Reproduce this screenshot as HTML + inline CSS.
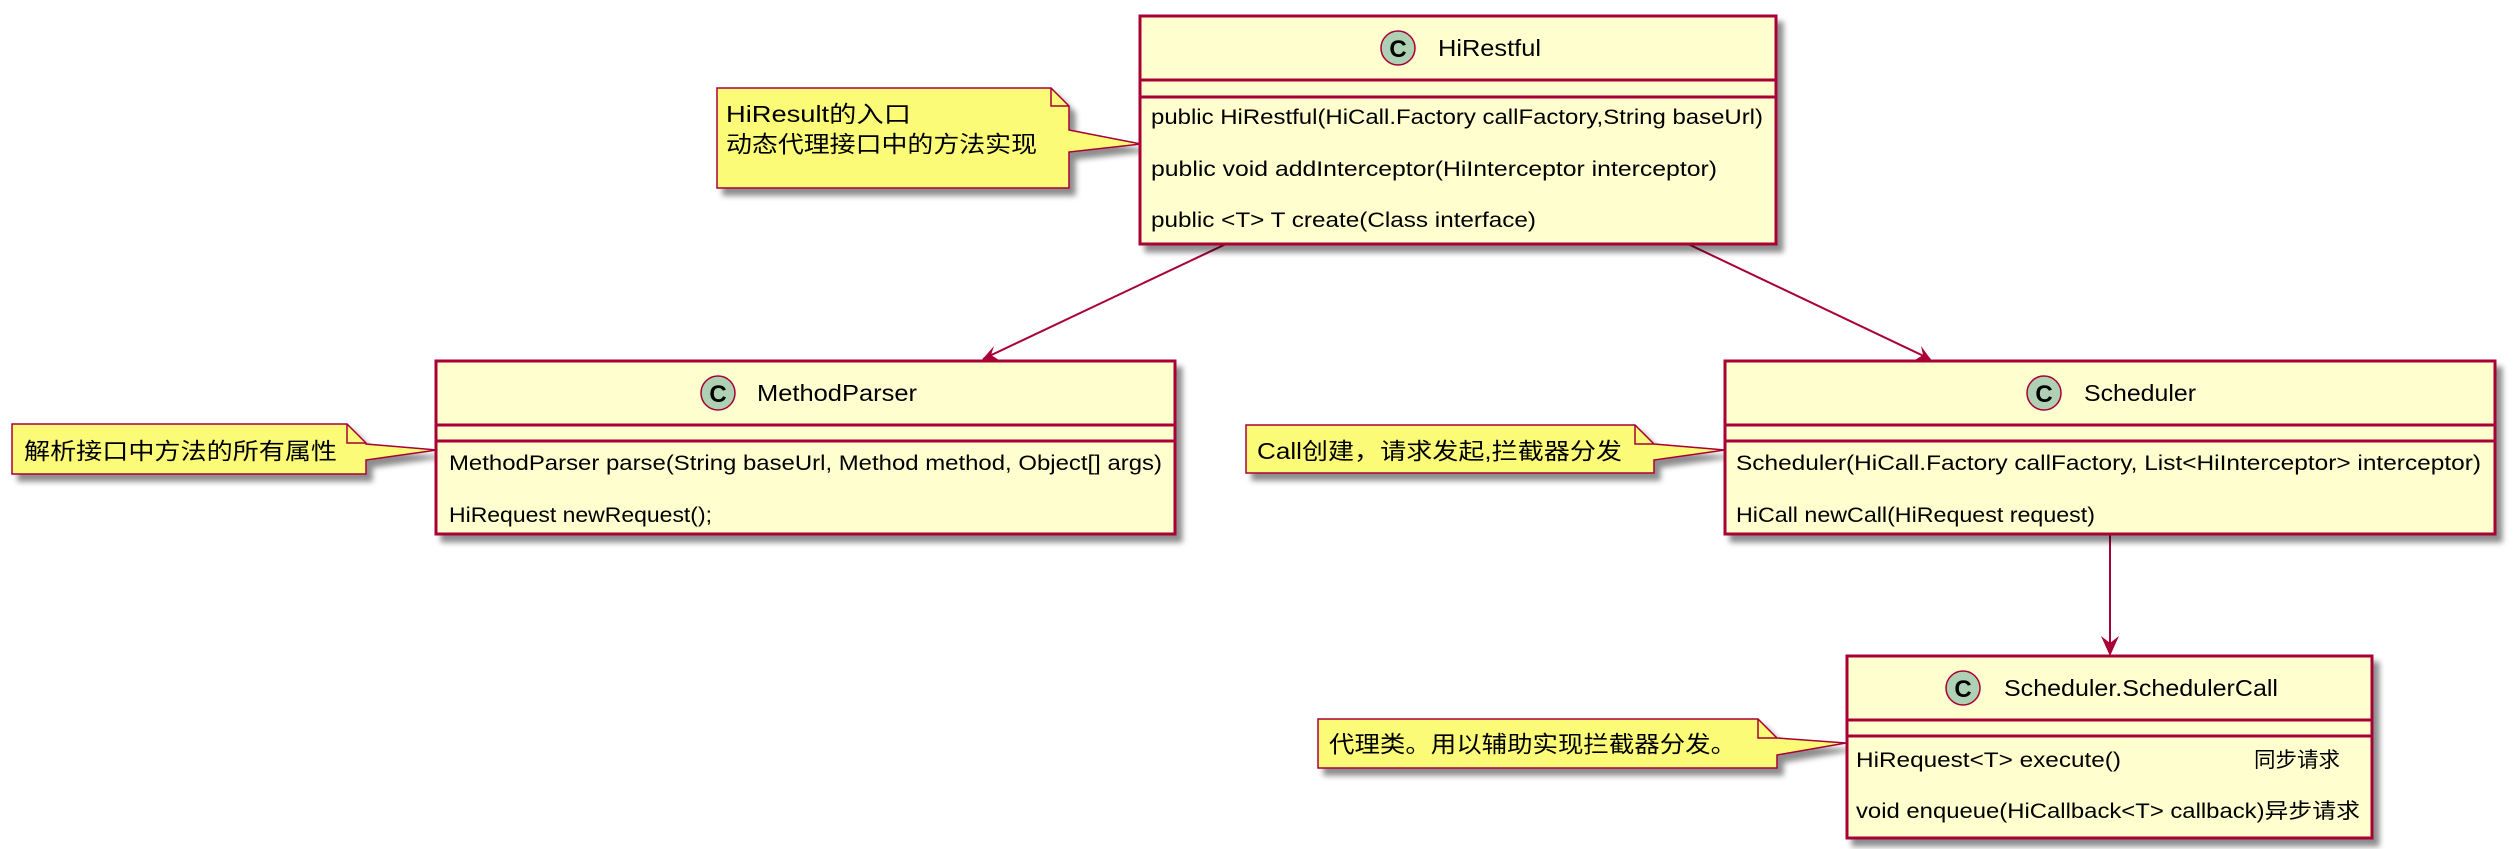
<!DOCTYPE html>
<html><head><meta charset="utf-8"><style>
html,body{margin:0;padding:0;background:#fff;}
svg{display:block}
text{font-family:"Liberation Sans","Noto Sans CJK SC",sans-serif;fill:#000;}
</style></head><body>
<svg width="2514" height="849" viewBox="0 0 2514 849" xmlns="http://www.w3.org/2000/svg">
<defs>
<filter id="sh" x="-10%" y="-10%" width="130%" height="140%"><feGaussianBlur in="SourceAlpha" stdDeviation="3"/><feOffset dx="6" dy="7"/><feComponentTransfer><feFuncA type="linear" slope="0.45"/></feComponentTransfer><feMerge><feMergeNode/><feMergeNode in="SourceGraphic"/></feMerge></filter>
</defs>
<g stroke="#A80036" stroke-width="2" fill="none">
<line x1="1226" y1="244" x2="983" y2="359"/>
<line x1="1688" y1="244" x2="1930" y2="359"/>
<line x1="2110" y1="534" x2="2110" y2="654"/>
</g>
<g fill="#A80036">
<polygon points="981,361 994,346 991,355 999,360"/>
<polygon points="1932,361 1915,360 1923,355 1921,346"/>
<polygon points="2110,656 2101,636 2110,643 2119,636"/>
</g>

<g filter="url(#sh)" fill="#FBFB77" stroke="#A80036" stroke-width="1.5">
<path d="M717,88 H1051 L1069,106 V130 L1141,144 L1069,152 V188 H717 Z"/>
<path d="M1051,88 V106 H1069" fill="none"/>
<path d="M12,424 H347 L366,443 V444 L437,450 L366,460 V474 H12 Z"/>
<path d="M347,424 V443 H366" fill="none"/>
<path d="M1246,425 H1635 L1654,444 V444 L1725,450 L1654,460 V473 H1246 Z"/>
<path d="M1635,425 V444 H1654" fill="none"/>
<path d="M1318,719 H1758 L1777,738 V738 L1846,743 L1777,755 V768 H1318 Z"/>
<path d="M1758,719 V738 H1777" fill="none"/>
</g>
<g font-size="23" lengthAdjust="spacingAndGlyphs">
<text x="726" y="122" textLength="185" lengthAdjust="spacingAndGlyphs">HiResult的入口</text>
<text x="726" y="152" textLength="311" lengthAdjust="spacingAndGlyphs">动态代理接口中的方法实现</text>
<text x="24" y="459" textLength="313" lengthAdjust="spacingAndGlyphs">解析接口中方法的所有属性</text>
<text x="1257" y="459" textLength="365" lengthAdjust="spacingAndGlyphs">Call创建，请求发起,拦截器分发</text>
<text x="1329" y="752" textLength="407" lengthAdjust="spacingAndGlyphs">代理类。用以辅助实现拦截器分发。</text>
</g>

<g filter="url(#sh)" fill="#FEFECE" stroke="#A80036" stroke-width="3">
<rect x="1140" y="16" width="636" height="228"/>
<rect x="436" y="361" width="739" height="173"/>
<rect x="1725" y="361" width="770" height="173"/>
<rect x="1847" y="656" width="525" height="182"/>
</g>
<g stroke="#A80036" stroke-width="3">
<line x1="1140" y1="80" x2="1776" y2="80"/><line x1="1140" y1="97" x2="1776" y2="97"/>
<line x1="436" y1="425" x2="1175" y2="425"/><line x1="436" y1="441" x2="1175" y2="441"/>
<line x1="1725" y1="425" x2="2495" y2="425"/><line x1="1725" y1="441" x2="2495" y2="441"/>
<line x1="1847" y1="720" x2="2372" y2="720"/><line x1="1847" y1="736" x2="2372" y2="736"/>
</g>
<g fill="#ADD1B2" stroke="#A80036" stroke-width="1.5">
<circle cx="1398" cy="48" r="17"/>
<circle cx="718" cy="393" r="17"/>
<circle cx="2044" cy="393" r="17"/>
<circle cx="1963" cy="688" r="17"/>
</g>
<g font-size="24" font-weight="bold" text-anchor="middle">
<text x="1398" y="57">C</text><text x="718" y="402">C</text><text x="2044" y="402">C</text><text x="1963" y="697">C</text>
</g>
<g font-size="23">
<text x="1438" y="56" textLength="103" lengthAdjust="spacingAndGlyphs">HiRestful</text>
<text x="757" y="401" textLength="160" lengthAdjust="spacingAndGlyphs">MethodParser</text>
<text x="2084" y="401" textLength="112" lengthAdjust="spacingAndGlyphs">Scheduler</text>
<text x="2004" y="696" textLength="274" lengthAdjust="spacingAndGlyphs">Scheduler.SchedulerCall</text>
</g>
<g font-size="21">
<text x="1151" y="124" textLength="612" lengthAdjust="spacingAndGlyphs">public HiRestful(HiCall.Factory callFactory,String baseUrl)</text>
<text x="1151" y="176" textLength="566" lengthAdjust="spacingAndGlyphs">public void addInterceptor(HiInterceptor interceptor)</text>
<text x="1151" y="227" textLength="385" lengthAdjust="spacingAndGlyphs">public &lt;T&gt; T create(Class interface)</text>
<text x="449" y="470" textLength="713" lengthAdjust="spacingAndGlyphs">MethodParser parse(String baseUrl, Method method, Object[] args)</text>
<text x="449" y="522" textLength="263" lengthAdjust="spacingAndGlyphs">HiRequest newRequest();</text>
<text x="1736" y="470" textLength="745" lengthAdjust="spacingAndGlyphs">Scheduler(HiCall.Factory callFactory, List&lt;HiInterceptor&gt; interceptor)</text>
<text x="1736" y="522" textLength="359" lengthAdjust="spacingAndGlyphs">HiCall newCall(HiRequest request)</text>
<text x="1856" y="767" textLength="265" lengthAdjust="spacingAndGlyphs">HiRequest&lt;T&gt; execute()</text>
<text x="2254" y="767" textLength="86" lengthAdjust="spacingAndGlyphs">同步请求</text>
<text x="1856" y="818" textLength="504" lengthAdjust="spacingAndGlyphs">void enqueue(HiCallback&lt;T&gt; callback)异步请求</text>
</g>
</svg>
</body></html>
